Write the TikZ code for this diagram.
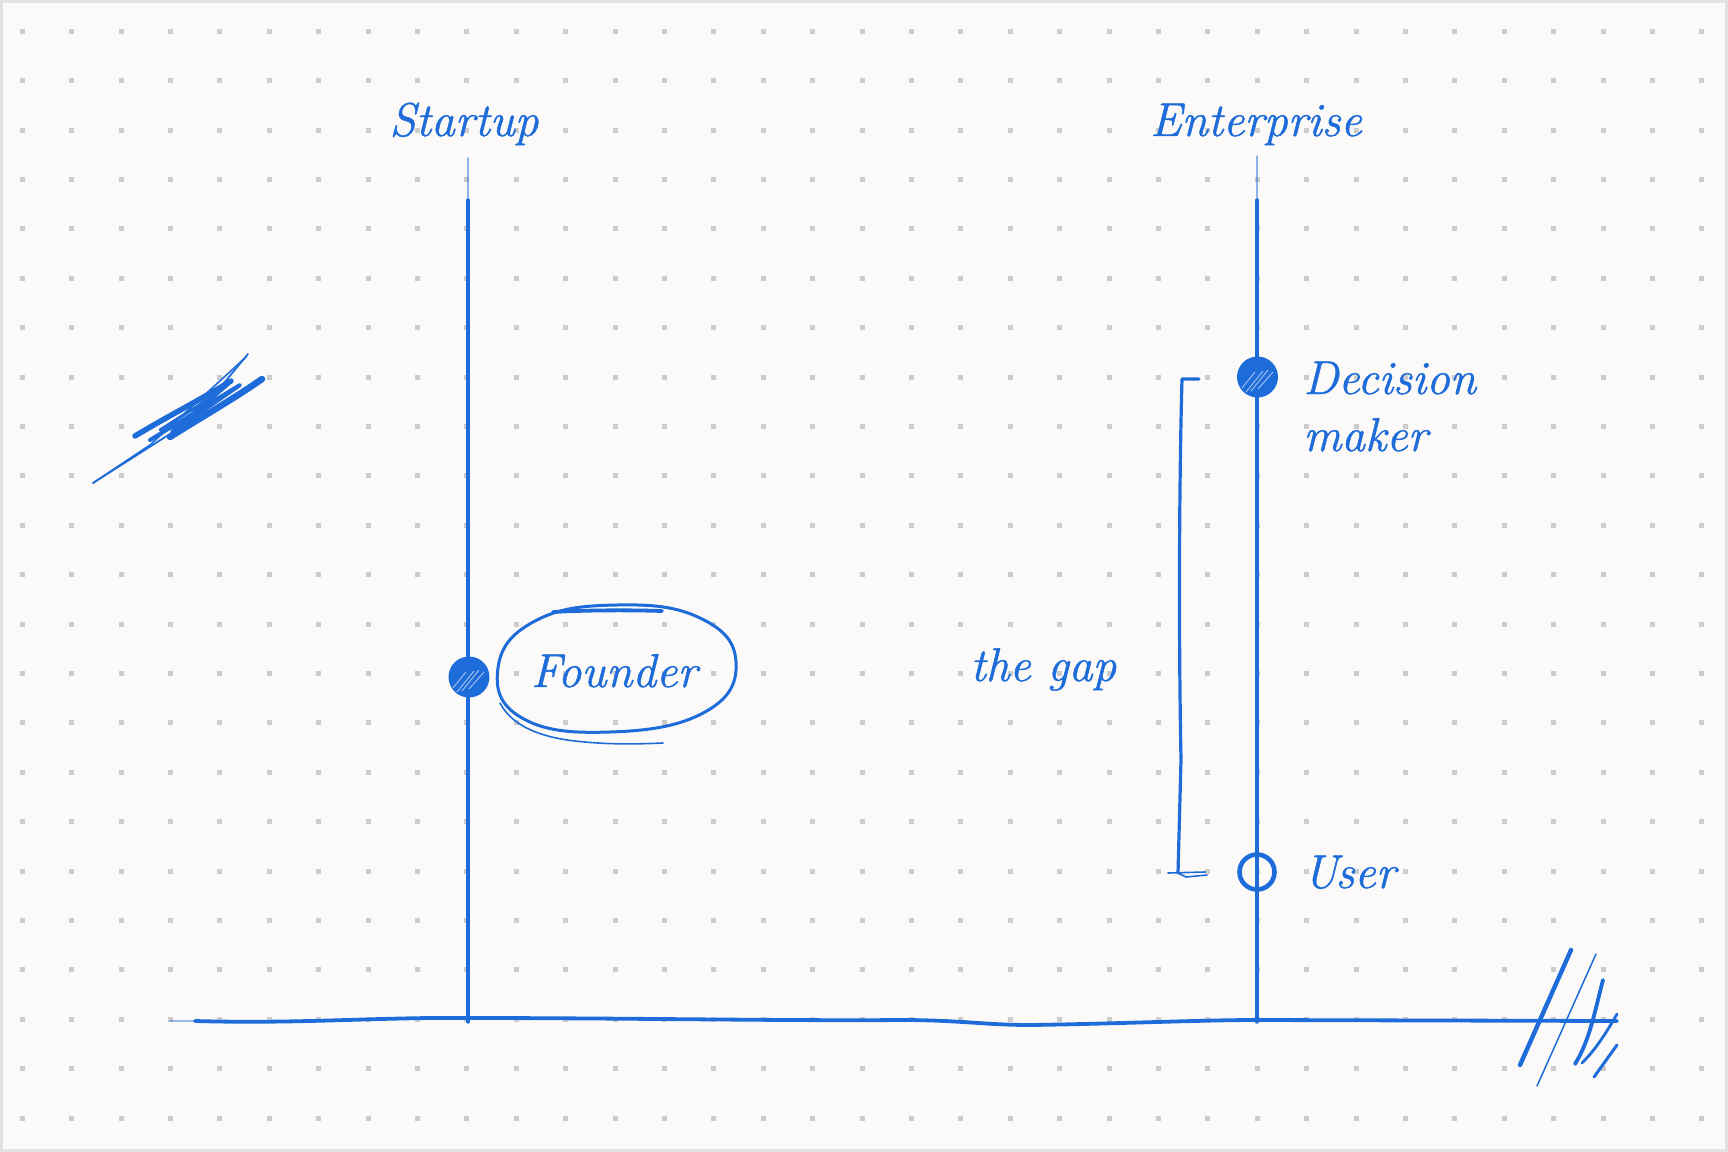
\documentclass[tikz,border=0pt]{standalone}
\usepackage{fontspec}
\newfontfamily\handfont{Latin Modern Roman}[FakeBold=1.0]
\definecolor{ink}{RGB}{30,108,217}
\definecolor{paper}{RGB}{251,250,248}
\definecolor{dotgray}{RGB}{204,204,204}
\definecolor{frame}{RGB}{226,226,226}
\begin{document}
\begin{tikzpicture}[x=0.02cm,y=-0.02cm,
  inkline/.style={draw=ink, line cap=round, line join=round},
  hand/.style={text=ink, font=\fontsize{27}{32}\handfont\itshape, inner sep=0pt},
  fdot/.style={circle, fill=ink, minimum size=41*0.02cm, inner sep=0pt},
  odot/.style={circle, draw=ink, line width=4.6*0.02cm, minimum size=35*0.02cm, inner sep=0pt}]
% background and frame
\fill[paper] (0,0) rectangle (1728,1152);
\draw[frame, line width=3*0.02cm] (1.5,1.5) rectangle (1726.5,1150.5);
\useasboundingbox (0,0) rectangle (1728,1152);
% dot grid
\foreach \i in {0,...,34}{
  \foreach \j in {0,...,22}{
    \fill[dotgray] ({22.3+49.4*\i-2.5},{31.3+49.4*\j-2.5}) rectangle ++(5,5);
  }
}
% coordinates
\coordinate (sTop) at (468,158);
\coordinate (sFade) at (468,200);
\coordinate (sBot) at (468,1022);
\coordinate (eTop) at (1257,156);
\coordinate (eFade) at (1257,200);
\coordinate (eBot) at (1257,1022);
\coordinate (bL0) at (170,1021);
\coordinate (bL) at (195,1021);
\coordinate (bR) at (1617,1021);
% labels
\node[hand, anchor=base] (startupLbl) at (464,136) {Startup};
\node[hand, anchor=base] (entLbl) at (1256,136) {Enterprise};
% vertical lines
\draw[inkline, line width=1.2*0.02cm, opacity=0.5] (sTop) -- (sFade);
\draw[inkline, line width=3.4*0.02cm] (sFade) -- (sBot);
\draw[inkline, line width=1.2*0.02cm, opacity=0.5] (eTop) -- (eFade);
\draw[inkline, line width=3.4*0.02cm] (eFade) -- (eBot);
% baseline
\draw[inkline, line width=1.8*0.02cm, opacity=0.45] (bL0) -- (bL);
\draw[inkline, line width=3.8*0.02cm] (bL) .. controls (300,1024) and (380,1017) .. (468,1018)
  .. controls (620,1018) and (800,1021) .. (900,1020)
  .. controls (960,1020) and (985,1025) .. (1030,1025)
  .. controls (1110,1024) and (1200,1020) .. (1257,1020)
  -- (bR);
% founder
\node[fdot] (founderDot) at (469,677) {};
\draw[white, opacity=0.6, line width=0.9*0.02cm] (453,688) -- (466,672) (457,692) -- (474,671) (462,691) -- (479,670) (469,689) -- (484,672);
\node[hand, anchor=base] (founderLbl) at (614,687) {Founder};
\draw[inkline, line width=3*0.02cm] plot[smooth cycle, tension=0.75] coordinates
  {(617,605) (700,618) (736,662) (705,712) (610,732) (522,718) (498,668) (535,621)};
\draw[inkline, line width=3.8*0.02cm] (553,612) .. controls (590,610) and (630,610) .. (662,611);
\draw[inkline, line width=1.6*0.02cm] (500,703) .. controls (512,726) and (540,737) .. (575,741) .. controls (610,745) and (640,744) .. (663,743);
% decision maker
\node[fdot] (decDot) at (1257.5,377) {};
\draw[white, opacity=0.6, line width=0.9*0.02cm] (1242,388) -- (1255,372) (1246,392) -- (1263,371) (1251,391) -- (1268,370) (1258,389) -- (1273,372);
\node[hand, anchor=base west] (decLbl) at (1303,394) {Decision};
\node[hand, anchor=base west] (makLbl) at (1303,451) {maker};
% user
\node[odot] (userDot) at (1257,872) {};
\node[hand, anchor=base west] (userLbl) at (1303,888) {User};
% gap bracket
\coordinate (brT) at (1199,379);
\coordinate (brB) at (1207,875);
\draw[inkline, line width=3.2*0.02cm] (brT) -- (1182,379) .. controls (1180,450) and (1178,600) .. (1181,760) -- (1178,873);
\draw[inkline, line width=1.6*0.02cm] (1178,873) -- (1186,877) -- (brB) (1168,873) -- (1205,872);
\node[hand, anchor=base west] (gapLbl) at (970,681) {the gap};
% left scribble
\coordinate (scA) at (93,483);
\draw[inkline, line width=1.8*0.02cm] (scA) -- (195,418) -- (248,354);
\draw[inkline, line width=1.6*0.02cm] (scA) -- (150,445) -- (246,357);
\draw[inkline, line width=5.5*0.02cm] (135,436) .. controls (170,415) and (200,400) .. (231,381);
\draw[inkline, line width=6.5*0.02cm] (170,437) .. controls (200,418) and (235,398) .. (262,379);
\draw[inkline, line width=4*0.02cm] (150,440) -- (240,385) -- (172,432) -- (228,384);
\draw[inkline, line width=3*0.02cm] (160,430) -- (210,398) -- (180,425);
% right hatch
\draw[inkline, line width=4.4*0.02cm] (1571,950) -- (1520,1065);
\draw[inkline, line width=1.5*0.02cm] (1596,954) -- (1537,1086);
\draw[inkline, line width=3.8*0.02cm] (1603,980) .. controls (1595,1010) and (1590,1040) .. (1575,1064);
\draw[inkline, line width=2.8*0.02cm] (1617,1014) .. controls (1605,1035) and (1595,1050) .. (1582,1063);
\draw[inkline, line width=3*0.02cm] (1617,1045) -- (1594,1077);
\end{tikzpicture}
\end{document}
